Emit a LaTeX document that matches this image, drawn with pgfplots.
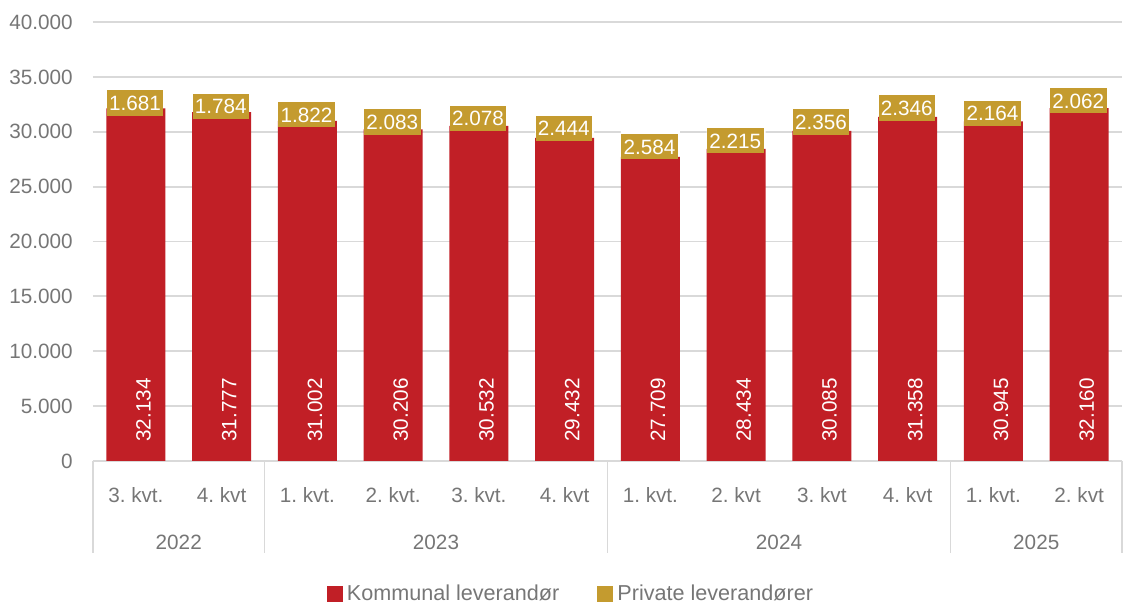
\documentclass[border=0pt]{standalone}
\usepackage{fontspec}
\setmainfont{Liberation Sans}
\usepackage{pgfplots}
\pgfplotsset{compat=1.18}
\usepackage{pgfplotstable}
\definecolor{kred}{RGB}{193,31,38}
\definecolor{kgold}{RGB}{196,155,47}
\definecolor{tgrey}{RGB}{118,118,118}
\definecolor{ggrey}{RGB}{217,217,217}
\frenchspacing

\pgfplotstableread{
x kom priv
0 32134 1681
1 31777 1784
2 31002 1822
3 30206 2083
4 30532 2078
5 29432 2444
6 27709 2584
7 28434 2215
8 30085 2356
9 31358 2346
10 30945 2164
11 32160 2062
}\data

\begin{document}
\begin{tikzpicture}[font=\fontsize{10.35pt}{12pt}\selectfont]
\useasboundingbox (-46.5pt,-71pt) rectangle (515pt,230.5pt);
\begin{axis}[
  scale only axis, width=514.5pt, height=219.5pt,
  at={(0,0)}, anchor=south west,
  xmin=-0.5, xmax=11.5, ymin=0, ymax=40000,
  ybar stacked, bar width=29.5pt,
  axis line style={draw=none},
  tick style={draw=none}, major tick length=0pt,
  ytick={0,5000,...,40000},
  ymajorgrids, grid style={ggrey, line width=0.9pt},
  xtick={0,...,11},
  xticklabels={3. kvt., 4. kvt, 1. kvt., 2. kvt., 3. kvt., 4. kvt, 1. kvt., 2. kvt, 3. kvt, 4. kvt, 1. kvt., 2. kvt},
  x tick label style={anchor=base, yshift=-21pt, text=tgrey},
  y tick label style={anchor=east, inner sep=0pt, xshift=-10pt, text=tgrey},
  /pgf/number format/1000 sep={.},
  /pgf/number format/assume math mode=true,
  scaled y ticks=false,
  clip=false,
  legend style={at={(0.4655,0)}, anchor=center, yshift=-66.5pt, draw=none, fill=none,
    font=\fontsize{10.8pt}{12pt}\selectfont,
    legend columns=2, text=tgrey, /tikz/every even column/.append style={column sep=17pt}},
  legend cell align=left,
]
\addplot[fill=kred, draw=none,
  legend image code/.code={\fill[kred] (0pt,-4pt) rectangle (8pt,4pt);},
  nodes near coords, point meta=explicit,
  visualization depends on={\thisrow{kom} \as \kv},
  every node near coord/.append style={shift={(axis direction cs:0,-0.5*\kv)}, xshift=3.75pt, yshift=9.5pt, rotate=90, anchor=west, text=white, inner sep=0pt}]
  table[x=x, y=kom, meta=kom] {\data};
\addlegendentry{Kommunal leverandør}
\addplot[fill=white, draw=none,
  legend image code/.code={\fill[kgold] (0pt,-4pt) rectangle (8pt,4pt);},
  nodes near coords, point meta=explicit,
  every node near coord/.append style={anchor=west, xshift=-14.75pt, yshift=-2pt, fill=kgold, text=white, inner xsep=1.2pt, inner ysep=2.4pt, text height=7.6pt, text depth=0.3pt}]
  table[x=x, y=priv, meta=priv] {\data};
\addlegendentry{Private leverandører}
\draw[ggrey, line width=0.9pt] (axis cs:-0.5,0) -- ++(0pt,-46pt);
\draw[ggrey, line width=0.9pt] (axis cs:1.5,0) -- ++(0pt,-46pt);
\draw[ggrey, line width=0.9pt] (axis cs:5.5,0) -- ++(0pt,-46pt);
\draw[ggrey, line width=0.9pt] (axis cs:9.5,0) -- ++(0pt,-46pt);
\draw[ggrey, line width=0.9pt] (axis cs:11.5,0) -- ++(0pt,-46pt);
\node[anchor=base, text=tgrey] at ([yshift=-44.5pt]axis cs:0.5,0) {2022};
\node[anchor=base, text=tgrey] at ([yshift=-44.5pt]axis cs:3.5,0) {2023};
\node[anchor=base, text=tgrey] at ([yshift=-44.5pt]axis cs:7.5,0) {2024};
\node[anchor=base, text=tgrey] at ([yshift=-44.5pt]axis cs:10.5,0) {2025};
\end{axis}
\end{tikzpicture}
\end{document}
